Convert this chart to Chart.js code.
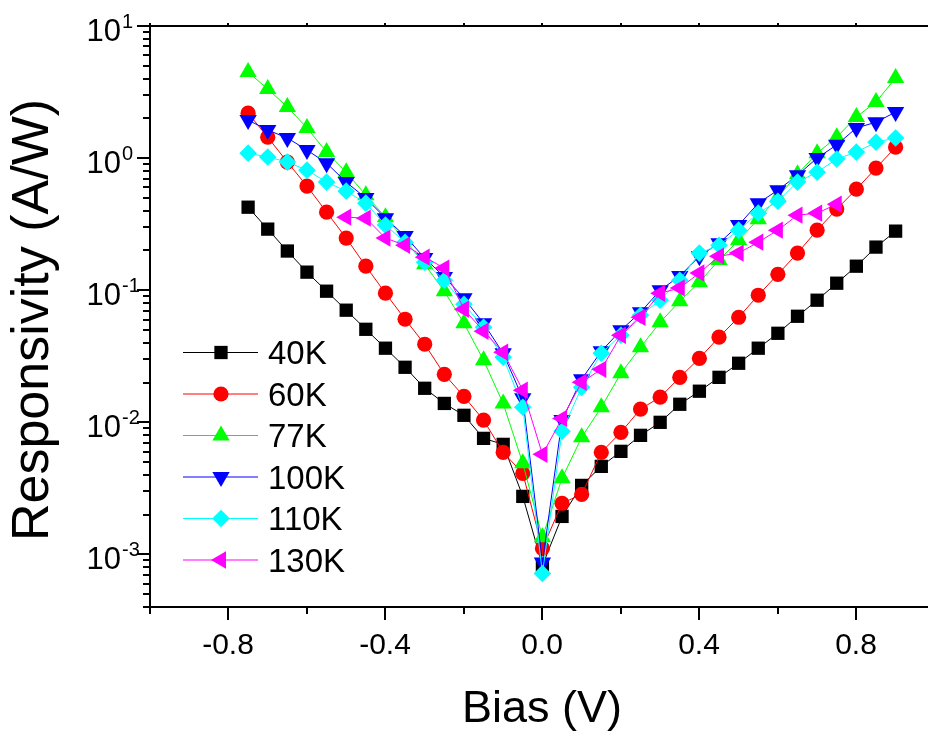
<!DOCTYPE html>
<html>
<head>
<meta charset="utf-8">
<script src="https://cdn.jsdelivr.net/npm/chart.js"></script>
<style>
    html, body { margin: 0; padding: 0; background: #fff; }
    canvas { display: block; }
</style>
</head>
<body>
<canvas id="grafico" width="928" height="736"></canvas>
<script>
// tensão aplicada (V)
const bias = [-0.75, -0.70, -0.65, -0.60, -0.55, -0.50, -0.45, -0.40, -0.35, -0.30,
              -0.25, -0.20, -0.15, -0.10, -0.05, 0.00, 0.05, 0.10, 0.15, 0.20,
              0.25, 0.30, 0.35, 0.40, 0.45, 0.50, 0.55, 0.60, 0.65, 0.70,
              0.75, 0.80, 0.85, 0.90];

// responsividade (A/W) por temperatura
const r40K  = [0.425, 0.290, 0.198, 0.137, 0.0983, 0.0706, 0.0506, 0.0364, 0.0261, 0.0181,
               0.0139, 0.0113, 0.00756, 0.00681, 0.00275, 0.000825, 0.00194, 0.00333, 0.00464, 0.00603,
               0.00797, 0.0100, 0.0137, 0.0172, 0.0219, 0.0280, 0.0364, 0.0472, 0.0635, 0.0840,
               0.113, 0.152, 0.212, 0.280];
const r60K  = [2.19, 1.44, 0.933, 0.614, 0.390, 0.248, 0.152, 0.0949, 0.0603, 0.0390,
               0.0231, 0.0157, 0.0104, 0.00593, 0.00411, 0.00111, 0.00244, 0.00285, 0.00593, 0.00840,
               0.0126, 0.0155, 0.0219, 0.0305, 0.0441, 0.0624, 0.0916, 0.132, 0.191, 0.285,
               0.411, 0.582, 0.840, 1.21];
const r77K  = [4.48, 3.33, 2.44, 1.69, 1.11, 0.783, 0.524, 0.357, 0.239, 0.157,
               0.0983, 0.0562, 0.0295, 0.0139, 0.00489, 0.00135, 0.00377, 0.00770, 0.0130, 0.0235,
               0.0370, 0.0572, 0.0825, 0.115, 0.169, 0.239, 0.345, 0.506, 0.756, 1.09,
               1.44, 2.05, 2.66, 4.04];
const r100K = [1.94, 1.63, 1.42, 1.15, 0.916, 0.658, 0.498, 0.351, 0.257, 0.175,
               0.126, 0.0870, 0.0562, 0.0333, 0.0152, 0.000870, 0.0104, 0.0212, 0.0345, 0.0498,
               0.0681, 0.100, 0.128, 0.181, 0.227, 0.311, 0.456, 0.572, 0.743, 1.00,
               1.26, 1.69, 1.87, 2.23];
const r110K = [1.09, 1.02, 0.933, 0.811, 0.658, 0.562, 0.456, 0.311, 0.231, 0.163,
               0.119, 0.0783, 0.0524, 0.0311, 0.0130, 0.000718, 0.00855, 0.0184, 0.0333, 0.0456,
               0.0647, 0.0840, 0.119, 0.191, 0.219, 0.285, 0.383, 0.472, 0.658, 0.783,
               0.983, 1.11, 1.32, 1.42];
const r130K = [null, null, null, null, null, 0.357, 0.351, 0.248, 0.219, 0.178,
               0.147, 0.0718, 0.0489, 0.0339, 0.0175, 0.00572, 0.0107, 0.0201, 0.0252, 0.0456,
               0.0624, 0.0949, 0.104, 0.135, 0.181, 0.191, 0.231, 0.285, 0.370, 0.383,
               0.448, null, null, null];

const nomes = ['40K', '60K', '77K', '100K', '110K', '130K'];

// ticks dos eixos
const xTicks = [-1.0, -0.8, -0.6, -0.4, -0.2, 0.0, 0.2, 0.4, 0.6, 0.8];
const xLabels = ['', '-0.8', '', '-0.4', '', '0.0', '', '0.4', '', '0.8'];
const yExpoentes = [1, 0, -1, -2, -3];

const FONTE = '"Liberation Sans", Arial, sans-serif';

// estilo de cada curva
const cores = ['#000000', '#FF0000', '#00FF00', '#0000FF', '#00FFFF', '#FF00FF'];
const marcadores = ['rect', 'circle', 'triangle', 'triangle', 'rectRot', 'triangle'];
const rotacoes = [0, 0, 0, 180, 0, -90];
const raios = [9.4, 7.6, 10, 10, 8.8, 10];

const series = [r40K, r60K, r77K, r100K, r110K, r130K];

const datasets = series.map(function(s, i) {
    const pontos = [];
    s.forEach(function(v, j) {
        if (v !== null) pontos.push({x: bias[j], y: v});
    });
    return {
        label: nomes[i],
        data: pontos,
        borderColor: cores[i],
        backgroundColor: cores[i],
        borderWidth: 1,
        pointStyle: marcadores[i],
        pointRotation: rotacoes[i],
        pointRadius: raios[i],
        pointBorderWidth: 0,
        pointBackgroundColor: cores[i],
        tension: 0,
        order: series.length - i // o último fica por cima
    };
});

// desenha eixos, ticks, títulos e legenda à moda do Origin
const eixos = {
    id: 'eixos',
    afterDraw: function(chart) {
        const ctx = chart.ctx;
        const a = chart.chartArea;
        const sx = chart.scales.x;
        const sy = chart.scales.y;

        ctx.save();
        ctx.strokeStyle = '#000';
        ctx.fillStyle = '#000';
        ctx.lineWidth = 2;

        // moldura
        ctx.beginPath();
        ctx.moveTo(a.right + 2, a.top);
        ctx.lineTo(a.left, a.top);
        ctx.lineTo(a.left, a.bottom);
        ctx.lineTo(a.right + 2, a.bottom);
        ctx.stroke();

        // ticks do eixo x
        ctx.font = '30px ' + FONTE;
        ctx.textAlign = 'center';
        ctx.textBaseline = 'alphabetic';
        xTicks.forEach(function(v, i) {
            const px = Math.round(sx.getPixelForValue(v));
            const maior = xLabels[i] !== '';
            ctx.beginPath();
            ctx.moveTo(px, a.bottom);
            ctx.lineTo(px, a.bottom + (maior ? 13 : 7));
            ctx.moveTo(px, a.top);
            ctx.lineTo(px, a.top - 3);
            ctx.stroke();
            if (maior) ctx.fillText(xLabels[i], px, a.bottom + 47);
        });

        // ticks do eixo y (log)
        for (let k = -4; k <= 1; k++) {
            for (let m = 1; m <= 9; m++) {
                const v = m * Math.pow(10, k);
                if (v < sy.min || v > sy.max) continue;
                const py = Math.round(sy.getPixelForValue(v));
                ctx.beginPath();
                ctx.moveTo(a.left, py);
                ctx.lineTo(a.left - (m === 1 ? 13 : 7), py);
                ctx.stroke();
            }
        }
        yExpoentes.forEach(function(k) {
            const py = sy.getPixelForValue(Math.pow(10, k));
            ctx.font = '31px ' + FONTE;
            ctx.textAlign = 'right';
            ctx.fillText('10', a.left - 29, py + 15);
            ctx.font = '20px ' + FONTE;
            ctx.textAlign = 'left';
            ctx.fillText(String(k), a.left - 28, py + 2);
        });

        // títulos
        ctx.font = '45px ' + FONTE;
        ctx.textAlign = 'center';
        ctx.fillText('Bias (V)', 542, 722);

        ctx.save();
        ctx.translate(48, 320);
        ctx.rotate(-Math.PI / 2);
        ctx.font = '52px ' + FONTE;
        ctx.textAlign = 'center';
        ctx.fillText('Responsivity (A/W)', 0, 0);
        ctx.restore();

        // legenda
        const x0 = 183, x1 = 258, xm = 221, xt = 268;
        chart.data.datasets.forEach(function(ds, i) {
            const cy = 352.5 + i * 41.5;
            ctx.strokeStyle = ds.borderColor;
            ctx.lineWidth = 1;
            ctx.beginPath();
            ctx.moveTo(x0, cy);
            ctx.lineTo(x1, cy);
            ctx.stroke();
            ctx.fillStyle = ds.backgroundColor;
            Chart.helpers.drawPoint(ctx, {
                pointStyle: ds.pointStyle,
                rotation: ds.pointRotation,
                radius: ds.pointRadius,
                borderWidth: 0
            }, xm, cy);
            ctx.fillStyle = '#000';
            ctx.font = '33px ' + FONTE;
            ctx.textAlign = 'left';
            ctx.fillText(ds.label, xt, cy + 11.5);
        });

        ctx.restore();
    }
};

const canvas = document.getElementById('grafico');
const grafico = new Chart(canvas.getContext('2d'), {
    type: 'line',
    data: { datasets: datasets },
    options: {
        responsive: false,
        animation: false,
        devicePixelRatio: 1,
        layout: { autoPadding: false, padding: { left: 150, top: 26, right: 1, bottom: 129 } },
        scales: {
            x: { type: 'linear', min: -1.0, max: 0.98, display: false },
            y: { type: 'logarithmic', min: 4e-4, max: 10, display: false }
        },
        plugins: {
            legend: { display: false },
            tooltip: { enabled: false }
        }
    },
    plugins: [eixos]
});
</script>
</body>
</html>
